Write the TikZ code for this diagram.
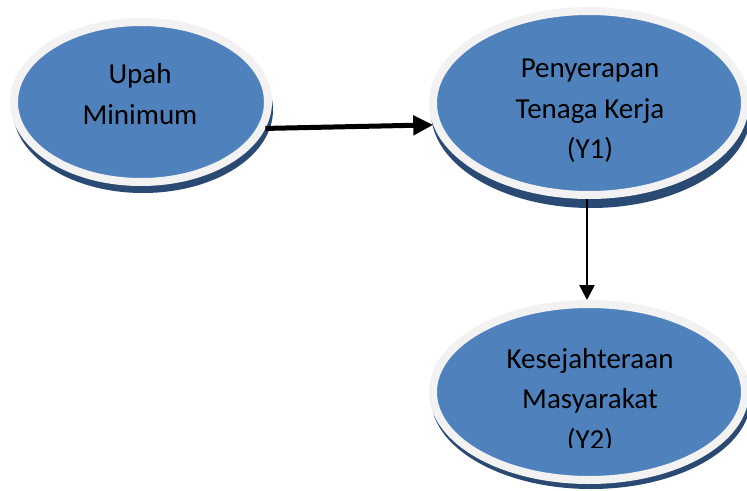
\documentclass[tikz,border=0pt]{standalone}
\usepackage{fontspec}
\setmainfont{Carlito}
\usetikzlibrary{shapes.geometric,arrows.meta}
\definecolor{ovalblue}{HTML}{4F81BD}
\definecolor{ovalrim}{HTML}{F2F2F2}
\definecolor{ovalshadow}{HTML}{2A4A73}
\tikzset{
  oval/.style={ellipse, draw=ovalrim, line width=8pt, fill=ovalblue, inner sep=0pt},
  ovaltext/.style={anchor=base, inner sep=0pt, font=\fontsize{29}{41}\selectfont},
  bigarrow/.style={line width=5pt, -{Triangle[length=20pt,width=19pt]}},
  thinarrow/.style={line width=2.5pt, -{Triangle[length=15pt,width=15pt]}}
}
\begin{document}
\begin{tikzpicture}[x=1pt,y=-1pt]
\useasboundingbox (0,0) rectangle (747,490);
% shadows
\fill[ovalshadow] (143,110) ellipse [x radius=130, y radius=83];
\fill[ovalshadow] (591,112) ellipse [x radius=160, y radius=96];
\fill[ovalshadow] (591,398) ellipse [x radius=160, y radius=91];
% ovals
\node[oval, minimum width=254pt, minimum height=160pt] (e1) at (141,102) {};
\node[oval, minimum width=312pt, minimum height=184pt] (e2) at (589,103) {};
\node[oval, minimum width=312pt, minimum height=176pt] (e3) at (589,392) {};
% texts
\node[ovaltext] (t1a) at (140,83) {Upah};
\node[ovaltext] (t1b) at (140,124) {Minimum};
\node[ovaltext] (t2a) at (590,77) {Penyerapan};
\node[ovaltext] (t2b) at (590,118) {Tenaga Kerja};
\node[ovaltext] (t2c) at (590,158) {(Y1)};
\node[ovaltext] (t3a) at (590,368) {Kesejahteraan};
\node[ovaltext] (t3b) at (590,408) {Masyarakat};
\begin{scope}
\clip (430,420) rectangle (747,447);
\node[ovaltext] (t3c) at (590,449) {(Y2)};
\end{scope}
% connectors
\draw[bigarrow] (e1.-12) -- (e2.188);
\draw[thinarrow] ([xshift=-2pt]e2.south) -- ([xshift=-2pt]e3.north);
\end{tikzpicture}
\end{document}
